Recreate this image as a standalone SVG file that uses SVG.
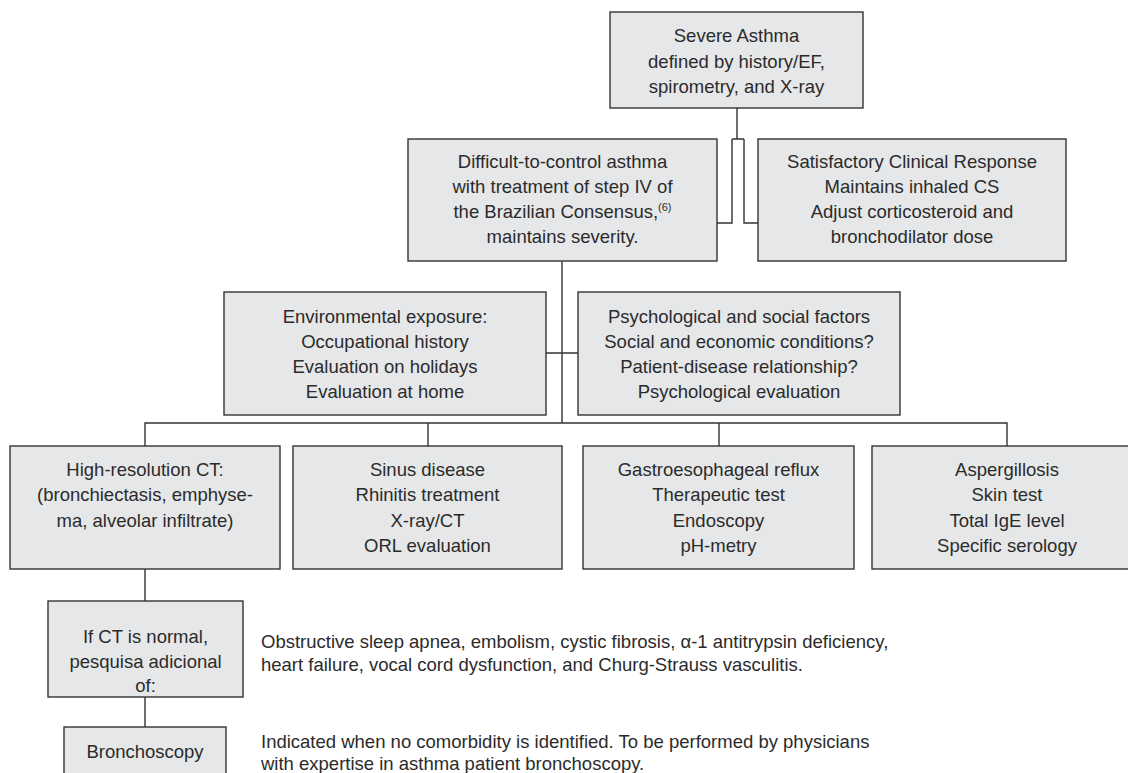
<svg xmlns="http://www.w3.org/2000/svg" width="1128" height="773" viewBox="0 0 1128 773">
<style>
  .box { fill: #e6e7e8; stroke: #333333; stroke-width: 1.4; }
  .conn { fill: none; stroke: #333333; stroke-width: 1.4; }
  .t { font-family: "Liberation Sans", Arial, sans-serif; font-size: 18.5px; fill: #2b2b2b; text-anchor: middle; }
  .b { font-family: "Liberation Sans", Arial, sans-serif; font-size: 18.5px; fill: #2b2b2b; }
</style>
<rect width="1128" height="773" fill="#ffffff"/>
<g id="connectors">
  <path class="conn" d="M737 108 V139 M732 139 H744 M732 139 V223 H717 M744 139 V223 H758"/>
  <path class="conn" d="M562 261 V423 M546 353 H578"/>
  <path class="conn" d="M145 446 V423 H1007 V446 M428 423 V446 M719 423 V446"/>
  <path class="conn" d="M145 569 V601 M145 697 V727"/>
</g>
<g id="severe-asthma">
  <rect class="box" x="610" y="12" width="253" height="96"/>
  <text class="t" x="736.5" y="42">Severe Asthma</text>
  <text class="t" x="736.5" y="68">defined by history/EF,</text>
  <text class="t" x="736.5" y="93">spirometry, and X-ray</text>
</g>
<g id="difficult">
  <rect class="box" x="408" y="139" width="309" height="122"/>
  <text class="t" x="562.5" y="168">Difficult-to-control asthma</text>
  <text class="t" x="562.5" y="193">with treatment of step IV of</text>
  <text class="t" x="562.5" y="218">the Brazilian Consensus,<tspan font-size="11" dy="-7">(6)</tspan></text>
  <text class="t" x="562.5" y="243">maintains severity.</text>
</g>
<g id="satisfactory">
  <rect class="box" x="758" y="139" width="308" height="122"/>
  <text class="t" x="912" y="168">Satisfactory Clinical Response</text>
  <text class="t" x="912" y="193">Maintains inhaled CS</text>
  <text class="t" x="912" y="218">Adjust corticosteroid and</text>
  <text class="t" x="912" y="243">bronchodilator dose</text>
</g>
<g id="environmental">
  <rect class="box" x="224" y="292" width="322" height="123"/>
  <text class="t" x="385" y="323">Environmental exposure:</text>
  <text class="t" x="385" y="348">Occupational history</text>
  <text class="t" x="385" y="373">Evaluation on holidays</text>
  <text class="t" x="385" y="398">Evaluation at home</text>
</g>
<g id="psychological">
  <rect class="box" x="578" y="292" width="322" height="123"/>
  <text class="t" x="739" y="323">Psychological and social factors</text>
  <text class="t" x="739" y="348">Social and economic conditions?</text>
  <text class="t" x="739" y="373">Patient-disease relationship?</text>
  <text class="t" x="739" y="398">Psychological evaluation</text>
</g>
<g id="hrct">
  <rect class="box" x="10" y="446" width="270" height="123"/>
  <text class="t" x="145" y="476">High-resolution CT:</text>
  <text class="t" x="145" y="501">(bronchiectasis, emphyse-</text>
  <text class="t" x="145" y="527">ma, alveolar infiltrate)</text>
</g>
<g id="sinus">
  <rect class="box" x="293" y="446" width="269" height="123"/>
  <text class="t" x="427.5" y="476">Sinus disease</text>
  <text class="t" x="427.5" y="501">Rhinitis treatment</text>
  <text class="t" x="427.5" y="527">X-ray/CT</text>
  <text class="t" x="427.5" y="552">ORL evaluation</text>
</g>
<g id="reflux">
  <rect class="box" x="583" y="446" width="271" height="123"/>
  <text class="t" x="718.5" y="476">Gastroesophageal reflux</text>
  <text class="t" x="718.5" y="501">Therapeutic test</text>
  <text class="t" x="718.5" y="527">Endoscopy</text>
  <text class="t" x="718.5" y="552">pH-metry</text>
</g>
<g id="aspergillosis">
  <rect class="box" x="872" y="446" width="270" height="123"/>
  <text class="t" x="1007" y="476">Aspergillosis</text>
  <text class="t" x="1007" y="501">Skin test</text>
  <text class="t" x="1007" y="527">Total IgE level</text>
  <text class="t" x="1007" y="552">Specific serology</text>
</g>
<g id="if-ct-normal">
  <rect class="box" x="48" y="601" width="195" height="96"/>
  <text class="t" x="145.5" y="643">If CT is normal,</text>
  <text class="t" x="145.5" y="668">pesquisa adicional</text>
  <text class="t" x="145.5" y="692">of:</text>
</g>
<g id="bronchoscopy">
  <rect class="box" x="64" y="727" width="162" height="60"/>
  <text class="t" x="145" y="758">Bronchoscopy</text>
</g>
<g id="notes">
  <text class="b" x="261" y="648">Obstructive sleep apnea, embolism, cystic fibrosis, α-1 antitrypsin deficiency,</text>
  <text class="b" x="261" y="671">heart failure, vocal cord dysfunction, and Churg-Strauss vasculitis.</text>
  <text class="b" x="261" y="748">Indicated when no comorbidity is identified. To be performed by physicians</text>
  <text class="b" x="261" y="770">with expertise in asthma patient bronchoscopy.</text>
</g>
</svg>
